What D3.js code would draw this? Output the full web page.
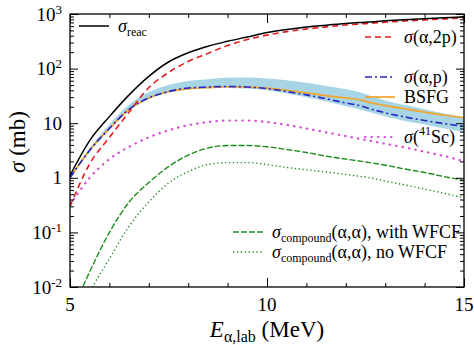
<!DOCTYPE html>
<html>
<head>
<meta charset="utf-8">
<script src="https://cdn.jsdelivr.net/npm/d3@7"></script>
</head>
<body style="margin:0">
<div id="chart"></div>
<script>
// energy grid (MeV), shared by every curve
var energy = [5, 5.5, 6, 6.5, 7, 7.5, 8, 8.5, 9, 9.5, 10, 10.5, 11, 11.5, 12, 12.4, 12.6, 13, 13.5, 14, 14.5, 15];

// cross sections in mb
var sigmaReac = [1.1, 4.8, 13.2, 33, 72, 132, 195, 257, 316, 380, 457, 520, 578, 625, 670, 700, 715, 750, 785, 820, 855, 890];
var sigma2p = [0.3, 1.8, 5.5, 16, 45, 85, 135, 190, 265, 340, 410, 475, 530, 580, 630, 660, 675, 710, 745, 780, 815, 850];
var sigmaP = [1.0, 3.2, 8, 18, 29, 38, 44, 46, 47, 46, 43, 38, 33, 28, 23.5, 20.5, 18.5, 15.5, 13, 11.2, 9.8, 8.7];
var sigmaBsfg = [1.0, 3.2, 8, 18, 29, 38, 43, 45, 46.5, 46, 44, 40, 36, 32, 29, 26.5, 24, 21, 18.3, 16, 14, 12.6];
var bandHigh = [1.02, 3.5, 9.5, 22, 37, 50, 59, 64, 68, 69, 66, 61, 55, 48, 42, 36, 32, 26, 21.5, 18, 15, 13];
var bandLow = [0.95, 3.0, 7.5, 17, 27.5, 36, 41, 43.5, 44, 43, 40, 35, 30, 25, 20.5, 17.5, 16, 13.2, 11, 9.5, 8, 6.9];
var sigmaSc = [0.32, 1.0, 2.2, 3.7, 5.5, 7.4, 9.2, 10.5, 11.2, 11.2, 10.5, 9.3, 8.0, 6.8, 5.8, 5.1, 4.8, 4.2, 3.6, 3.0, 2.5, 2.0];
var compoundWfcf = [0.003, 0.019, 0.1, 0.36, 0.82, 1.6, 2.6, 3.5, 3.9, 3.9, 3.7, 3.3, 2.9, 2.5, 2.2, 2.0, 1.9, 1.7, 1.45, 1.25, 1.05, 0.9];
var compoundNoWfcf = [0.001, 0.0078, 0.033, 0.13, 0.36, 0.8, 1.3, 1.75, 1.9, 1.9, 1.75, 1.55, 1.4, 1.28, 1.15, 1.05, 1.0, 0.87, 0.74, 0.62, 0.52, 0.43];

var xMajor = [5, 10, 15];
var xMinor = [6, 7, 8, 9, 11, 12, 13, 14];
var yMajor = [1e-2, 1e-1, 1, 10, 1e2, 1e3];
var yLabels = [["10", "-2"], ["10", "-1"], ["1", ""], ["10", ""], ["10", "2"], ["10", "3"]];

var W = 474, H = 345;
var margin = {top: 14, right: 10, bottom: 58, left: 70},
    width = W - margin.left - margin.right,
    height = H - margin.top - margin.bottom;

var svg = d3.select("#chart").append("svg")
    .attr("width", W)
    .attr("height", H);

var g = svg.append("g")
    .attr("transform", "translate(" + margin.left + "," + margin.top + ")");

var x = d3.scaleLinear().domain([5, 15]).range([0, width]);
var y = d3.scaleLog().domain([1e-2, 1e3]).range([height, 0]);

var yMinor = [];
for (var k = -2; k < 3; k++) {
    for (var m = 2; m <= 9; m++) yMinor.push(m * Math.pow(10, k));
}

g.append("clipPath").attr("id", "plotclip")
    .append("rect").attr("width", width).attr("height", height);

var plot = g.append("g").attr("clip-path", "url(#plotclip)");

function pts(vals) {
    return energy.map(function (e, i) { return [e, vals[i]]; });
}

var line = d3.line()
    .x(function (d) { return x(d[0]); })
    .y(function (d) { return y(d[1]); })
    .curve(d3.curveMonotoneX);

var area = d3.area()
    .x(function (d) { return x(d.e); })
    .y0(function (d) { return y(d.lo); })
    .y1(function (d) { return y(d.hi); })
    .curve(d3.curveMonotoneX);

// uncertainty band of (a,p)
plot.append("path")
    .datum(energy.map(function (e, i) { return {e: e, lo: bandLow[i], hi: bandHigh[i]}; }))
    .attr("d", area)
    .attr("fill", "#a8d5e6")
    .attr("stroke", "none");

var series = [
    {vals: compoundNoWfcf, color: "#1e8c1e", dash: "1.3,2.6", width: 1.4, cap: "butt"},
    {vals: compoundWfcf, color: "#1e8c1e", dash: "6,2", width: 1.4, cap: "butt"},
    {vals: sigmaSc, color: "#d64fd6", dash: "0.5,6", width: 2.2, cap: "round"},
    {vals: sigmaBsfg, color: "#f2a52b", dash: null, width: 1.7, cap: "butt"},
    {vals: sigmaP, color: "#2626c8", dash: "7,3,2,3", width: 1.6, cap: "butt"},
    {vals: sigma2p, color: "#e41a1c", dash: "6,4", width: 1.6, cap: "butt"},
    {vals: sigmaReac, color: "#000", dash: null, width: 1.5, cap: "butt"}
];

series.forEach(function (s) {
    plot.append("path")
        .datum(pts(s.vals))
        .attr("d", line)
        .attr("fill", "none")
        .attr("stroke", s.color)
        .attr("stroke-width", s.width)
        .attr("stroke-linecap", s.cap)
        .attr("stroke-dasharray", s.dash);
});

// ticks on all four sides, pointing inward
function ticks(axis, vals, size) {
    return axis.tickValues(vals).tickSize(size).tickSizeOuter(0).tickFormat("");
}

g.append("g").attr("transform", "translate(0," + height + ")").call(ticks(d3.axisBottom(x), xMajor, -9));
g.append("g").attr("transform", "translate(0," + height + ")").call(ticks(d3.axisBottom(x), xMinor, -4));
g.append("g").call(ticks(d3.axisTop(x), xMajor, -9));
g.append("g").call(ticks(d3.axisTop(x), xMinor, -4));
g.append("g").call(ticks(d3.axisLeft(y), yMajor, -8));
g.append("g").call(ticks(d3.axisLeft(y), yMinor, -4));
g.append("g").attr("transform", "translate(" + width + ",0)").call(ticks(d3.axisRight(y), yMajor, -8));
g.append("g").attr("transform", "translate(" + width + ",0)").call(ticks(d3.axisRight(y), yMinor, -4));

g.selectAll(".domain").remove();
g.selectAll(".tick line").attr("stroke", "#000").attr("stroke-width", 1);

g.append("rect")
    .attr("width", width)
    .attr("height", height)
    .attr("fill", "none")
    .attr("stroke", "#000")
    .attr("stroke-width", 1.3);

// tick labels
g.selectAll(".xlab")
    .data(xMajor)
    .enter().append("text")
    .attr("x", function (d) { return x(d); })
    .attr("y", height + 24)
    .attr("text-anchor", "middle")
    .attr("font-family", "Liberation Serif")
    .attr("font-size", 19)
    .text(function (d) { return d; });

var ylab = g.selectAll(".ylab")
    .data(yMajor)
    .enter().append("text")
    .attr("x", -8)
    .attr("y", function (d) { return y(d); })
    .attr("dy", "0.35em")
    .attr("text-anchor", "end")
    .attr("font-family", "Liberation Serif")
    .attr("font-size", 19);

ylab.append("tspan").text(function (d, i) { return yLabels[i][0]; });
ylab.append("tspan")
    .attr("dy", "-0.55em")
    .attr("font-size", 13)
    .text(function (d, i) { return yLabels[i][1]; });

// axis titles
var xt = svg.append("text")
    .attr("x", margin.left + width / 2)
    .attr("y", 337)
    .attr("text-anchor", "middle")
    .attr("font-family", "Liberation Serif")
    .attr("font-size", 23);
xt.append("tspan").attr("font-style", "italic").text("E");
xt.append("tspan").attr("dy", 5).attr("font-size", 16).text("α,lab");
xt.append("tspan").attr("dy", -5).text(" (MeV)");

var yt = svg.append("text")
    .attr("transform", "translate(25,142) rotate(-90)")
    .attr("text-anchor", "middle")
    .attr("font-family", "Liberation Serif")
    .attr("font-size", 23);
yt.append("tspan").attr("font-style", "italic").text("σ");
yt.append("tspan").text(" (mb)");

// legend
var legend = [
    {x: 79, y: 26, color: "#000", dash: null, cap: "butt", w: 1.5, label: [["σ", "i"], ["reac", "sub"]]},
    {x: 365, y: 37, color: "#e41a1c", dash: "6,4", cap: "butt", w: 1.6, label: [["σ", "i"], ["(α,2p)", ""]]},
    {x: 365, y: 77, color: "#2626c8", dash: "7,3,2,3", cap: "butt", w: 1.6, label: [["σ", "i"], ["(α,p)", ""]]},
    {x: 365, y: 97, color: "#f2a52b", dash: null, cap: "butt", w: 1.7, label: [["BSFG", ""]]},
    {x: 365, y: 137, color: "#d64fd6", dash: "0.5,6", cap: "round", w: 2.2, label: [["σ", "i"], ["(", ""], ["41", "sup"], ["Sc)", "back"]]},
    {x: 233, y: 232, color: "#1e8c1e", dash: "6,2", cap: "butt", w: 1.4, label: [["σ", "i"], ["compound", "sub"], ["(α,α), with WFCF", "back"]]},
    {x: 233, y: 252, color: "#1e8c1e", dash: "1.3,2.6", cap: "butt", w: 1.4, label: [["σ", "i"], ["compound", "sub"], ["(α,α), no WFCF", "back"]]}
];

legend.forEach(function (l) {
    svg.append("line")
        .attr("x1", l.x).attr("x2", l.x + 30)
        .attr("y1", l.y).attr("y2", l.y)
        .attr("stroke", l.color)
        .attr("stroke-width", l.w)
        .attr("stroke-linecap", l.cap)
        .attr("stroke-dasharray", l.dash);

    var t = svg.append("text")
        .attr("x", l.x + 39)
        .attr("y", l.y + 6)
        .attr("font-family", "Liberation Serif")
        .attr("font-size", 18);

    var hasSup = l.label.some(function (q) { return q[1] === "sup"; });
    l.label.forEach(function (p) {
        var s = t.append("tspan").text(p[0]);
        if (p[1] === "i") s.attr("font-style", "italic");
        if (p[1] === "sub") s.attr("dy", 4).attr("font-size", 12);
        if (p[1] === "sup") s.attr("dy", -8).attr("font-size", 12);
        if (p[1] === "back") s.attr("dy", hasSup ? 8 : -4);
    });
});
</script>
</body>
</html>
